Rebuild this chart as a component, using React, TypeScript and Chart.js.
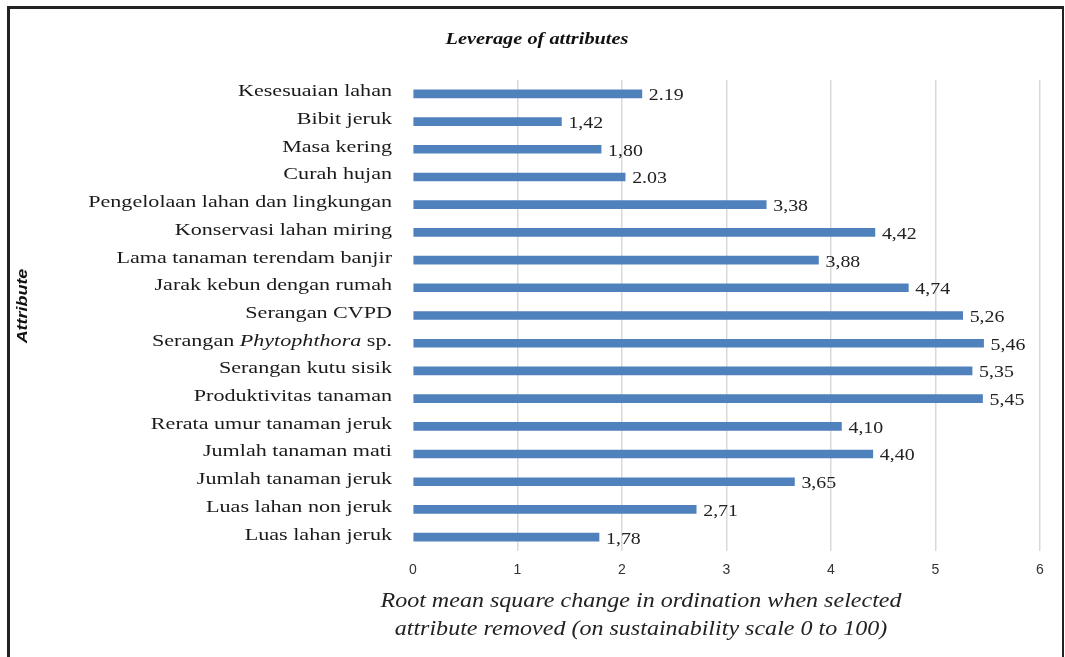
import React, { useEffect, useRef } from "react";
import { Chart, registerables } from "chart.js";

Chart.register(...registerables);

const categories = [
  "Kesesuaian lahan",
  "Bibit jeruk",
  "Masa kering",
  "Curah hujan",
  "Pengelolaan lahan dan lingkungan",
  "Konservasi lahan miring",
  "Lama tanaman terendam banjir",
  "Jarak kebun dengan rumah",
  "Serangan CVPD",
  "Serangan Phytophthora sp.",
  "Serangan kutu sisik",
  "Produktivitas tanaman",
  "Rerata umur tanaman jeruk",
  "Jumlah tanaman mati",
  "Jumlah tanaman jeruk",
  "Luas lahan non jeruk",
  "Luas lahan jeruk",
];

const values = [2.19, 1.42, 1.8, 2.03, 3.38, 4.42, 3.88, 4.74, 5.26, 5.46, 5.35, 5.45, 4.1, 4.4, 3.65, 2.71, 1.78];

const valueLabels = ["2.19", "1,42", "1,80", "2.03", "3,38", "4,42", "3,88", "4,74", "5,26", "5,46", "5,35", "5,45", "4,10", "4,40", "3,65", "2,71", "1,78"];

const xMin = 0;
const xMax = 6;
const xStep = 1;

const chartTitle = "Leverage of attributes";
const yAxisTitle = "Attribute";
const xAxisTitle = [
  "Root mean square change in ordination when selected",
  "attribute removed (on sustainability scale 0 to 100)",
];
const italicTerm = "Phytophthora";

const SERIF = "'Liberation Serif', 'Times New Roman', serif";
const SANS = "'Liberation Sans', Arial, sans-serif";

function stretchText(ctx: CanvasRenderingContext2D, text: string, x: number, y: number, sx: number, align: CanvasTextAlign) {
  ctx.save();
  ctx.translate(x, y);
  ctx.scale(sx, 1);
  ctx.textAlign = align;
  ctx.fillText(text, 0, 0);
  ctx.restore();
}

const drawPlugin = {
  id: "customText",
  afterDatasetsDraw(chart: any) {
    const ctx = chart.ctx;
    const meta = chart.getDatasetMeta(0);
    ctx.save();
    ctx.font = `17px ${SERIF}`;
    ctx.fillStyle = "#222";
    ctx.textBaseline = "middle";
    meta.data.forEach((bar: any, i: number) => {
      stretchText(ctx, valueLabels[i], bar.x + 7, bar.y + 2, 1.17, "left");
    });
    ctx.restore();
  },
  afterDraw(chart: any) {
    const ctx = chart.ctx;
    const yScale = chart.scales.y;
    const area = chart.chartArea;
    ctx.save();
    // category labels
    ctx.fillStyle = "#1a1a1a";
    ctx.textBaseline = "middle";
    const sx = 1.3;
    const rightX = area.left - 21;
    categories.forEach((label, i) => {
      const y = yScale.getPixelForValue(i) - 2;
      const idx = label.indexOf(italicTerm);
      if (idx < 0) {
        ctx.font = `17px ${SERIF}`;
        stretchText(ctx, label, rightX, y, sx, "right");
      } else {
        const before = label.slice(0, idx);
        const after = label.slice(idx + italicTerm.length);
        ctx.font = `17px ${SERIF}`;
        const wb = ctx.measureText(before).width * sx;
        const wa = ctx.measureText(after).width * sx;
        ctx.font = `italic 17px ${SERIF}`;
        const wi = ctx.measureText(italicTerm).width * sx;
        let x = rightX - wb - wi - wa;
        ctx.font = `17px ${SERIF}`;
        stretchText(ctx, before, x, y, sx, "left");
        x += wb;
        ctx.font = `italic 17px ${SERIF}`;
        stretchText(ctx, italicTerm, x, y, sx, "left");
        x += wi;
        ctx.font = `17px ${SERIF}`;
        stretchText(ctx, after, x, y, sx, "left");
      }
    });
    // chart title
    ctx.font = `italic bold 16px ${SERIF}`;
    ctx.fillStyle = "#111";
    stretchText(ctx, chartTitle, 537, 40, 1.27, "center");
    // x axis title
    ctx.font = `italic 21px ${SERIF}`;
    ctx.fillStyle = "#222";
    xAxisTitle.forEach((line, i) => {
      stretchText(ctx, line, 641, 601 + i * 28, 1.145, "center");
    });
    // y axis title
    ctx.translate(23, 306);
    ctx.rotate(-Math.PI / 2);
    ctx.font = `italic bold 14px ${SANS}`;
    ctx.fillStyle = "#111";
    stretchText(ctx, yAxisTitle, 0, 0, 1.28, "center");
    ctx.restore();
  },
};

export default function App() {
  const canvasRef = useRef<HTMLCanvasElement | null>(null);

  useEffect(() => {
    const canvas = canvasRef.current;
    if (!canvas) return;
    const chart = new Chart(canvas, {
      type: "bar",
      data: {
        labels: categories,
        datasets: [
          {
            data: values,
            backgroundColor: "#4f81bd",
            barThickness: 8,
            borderWidth: 0,
          },
        ],
      },
      options: {
        indexAxis: "y",
        responsive: false,
        animation: false,
        devicePixelRatio: 1,
        layout: { padding: { top: 80, right: 25, left: 0, bottom: 0 } },
        plugins: {
          legend: { display: false },
          title: { display: false },
          tooltip: { enabled: false },
        },
        scales: {
          x: {
            min: xMin,
            max: xMax,
            ticks: {
              stepSize: xStep,
              color: "#333",
              font: { family: SANS, size: 14 },
              padding: 11,
            },
            grid: {
              color: (c: any) => (c.tick && c.tick.value === 0 ? "rgba(0,0,0,0)" : "#d9d9d9"),
              lineWidth: 1.5,
              drawTicks: false,
            },
            border: { display: false },
            afterFit: (s: any) => {
              s.height = 106;
            },
          },
          y: {
            ticks: { display: false },
            grid: { display: false },
            border: { display: false },
            afterFit: (s: any) => {
              s.width = 413;
            },
          },
        },
      } as any,
      plugins: [drawPlugin],
    });
    return () => chart.destroy();
  }, []);

  return (
    <div style={{ position: "fixed", left: 0, top: 0, width: 1065, height: 657, background: "#fff" }}>
      <canvas ref={canvasRef} width={1065} height={657} style={{ display: "block" }} />
      <div
        style={{
          position: "absolute",
          left: 7,
          top: 6,
          width: 1065 - 7 - 3 - 2 - 1,
          height: 657 - 6,
          borderTop: "3px solid #222",
          borderLeft: "3px solid #222",
          borderRight: "2px solid #222",
          boxSizing: "content-box",
          pointerEvents: "none",
        }}
      />
    </div>
  );
}
